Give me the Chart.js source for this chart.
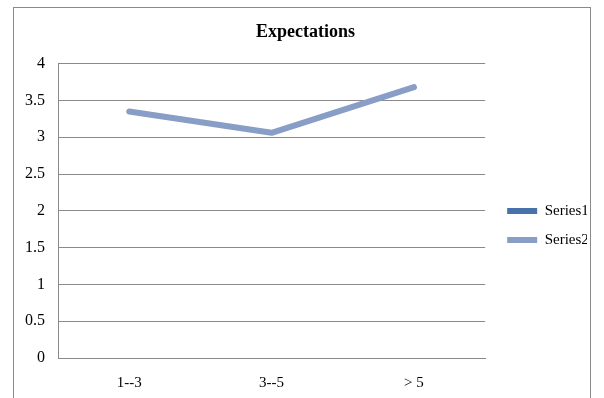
<!DOCTYPE html>
<html>
<head>
<meta charset="utf-8">
<script src="https://cdn.jsdelivr.net/npm/chart.js@4.4.0/dist/chart.umd.min.js"></script>
<style>
  body { margin: 0; background: #fff; }
  #frame {
    position: absolute; left: 13px; top: 7px; width: 576px; height: 400px;
    border: 1px solid #8a8a8a; border-bottom: none; background: #fff;
  }
  #wrap { position: absolute; left: 0; top: 0; width: 576px; height: 391px; }
</style>
</head>
<body>
<div id="frame"><div id="wrap"><canvas id="chart"></canvas></div></div>
<script>
// chart data
const categories = ["1--3", "3--5", "> 5"];
const series1 = [null, null, null];
const series2 = [3.35, 3.06, 3.68];
const yTicks = [0, 0.5, 1, 1.5, 2, 2.5, 3, 3.5, 4];

const serif = "'Liberation Serif', 'Times New Roman', serif";

new Chart(document.getElementById("chart").getContext("2d"), {
    type: "line",
    data: {
        labels: categories,
        datasets: [{
            label: "Series1",
            data: series1,
            borderColor: "#4772ab",
            backgroundColor: "#4772ab",
            borderWidth: 6,
            borderCapStyle: "round",
            pointRadius: 0,
        }, {
            label: "Series2",
            data: series2,
            borderColor: "#889ec6",
            backgroundColor: "#889ec6",
            borderWidth: 6,
            borderCapStyle: "round",
            borderJoinStyle: "round",
            pointRadius: 0,
            tension: 0,
        }]
    },
    options: {
        responsive: true,
        maintainAspectRatio: false,
        animation: false,
        layout: { padding: { top: 0, right: 3, bottom: 0, left: 10 } },
        plugins: {
            title: {
                display: true,
                text: "Expectations",
                color: "#000",
                font: { family: serif, size: 18, weight: "bold" },
                padding: { top: 14, bottom: 20 },
            },
            legend: {
                position: "right",
                // empty legend title only pushes the entries down
                title: { display: true, text: "", font: { size: 14 }, padding: { top: 0, bottom: 27 } },
                labels: {
                    usePointStyle: true,
                    pointStyle: "line",
                    pointStyleWidth: 30,
                    padding: 14,
                    color: "#000",
                    font: { family: serif, size: 15 },
                },
            },
            tooltip: { enabled: false },
        },
        scales: {
            x: {
                offset: true,
                afterFit: axis => { axis.height = 41; },
                grid: { display: false, drawTicks: false },
                border: { display: true, color: "#8a8a8a" },
                ticks: { color: "#000", font: { family: serif, size: 15 }, padding: 16 },
            },
            y: {
                min: 0,
                max: 4,
                afterBuildTicks: axis => { axis.ticks = yTicks.map(v => ({ value: v })); },
                afterFit: axis => { axis.width = 34; },
                grid: { color: "#8a8a8a", drawTicks: false },
                border: { display: true, color: "#8a8a8a" },
                ticks: { color: "#000", font: { family: serif, size: 16 }, padding: 13, callback: v => v },
            },
            gap: {
                position: "right",
                afterFit: axis => { axis.width = 8; },
                grid: { display: false },
                border: { display: false },
                ticks: { display: false },
            },
        },
    },
});
</script>
</body>
</html>
